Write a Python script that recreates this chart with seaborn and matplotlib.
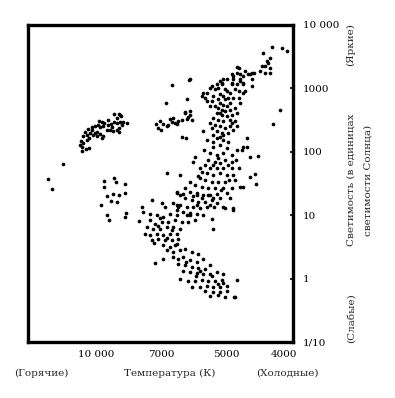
import numpy as np
import pandas as pd
import matplotlib
matplotlib.use("Agg")
import matplotlib.pyplot as plt
import matplotlib.transforms as mtransforms
import seaborn as sns

# ---------------- data (temperature K, luminosity in solar units) ----------------
giants_temp = [4270, 4130, 4060, 4400, 4300, 4350, 4330, 4420, 4370, 4300, 4450, 4370, 4300, 4550,
               4600, 4690, 4720, 4790, 4820, 4880, 4900, 5070, 5110, 5200, 4770, 4710, 4580, 4690,
               4150, 4250, 4820, 4770, 4630, 4580, 4880, 4580]
giants_lum = [4430, 4270, 3910, 3590, 3070, 2710, 2490, 2260, 2260, 2130, 1880, 1770, 1770, 1770,
              1670, 1880, 1570, 2130, 1770, 1570, 1230, 1430, 1160, 1030, 1310, 1160, 1090, 906,
              453, 275, 2210, 1670, 1670, 1730, 1390, 1390]

bright_temp = [6030, 6030, 6620, 6070, 6830, 6110, 6170, 6090, 7190, 7040, 6920, 6800, 6680, 6620,
               6510, 6420, 6290, 7100, 7010, 6740, 6570, 6450, 6130, 6030, 5970, 6180, 6270, 6160]
bright_lum = [1390, 436, 1120, 1360, 593, 669, 421, 350, 275, 303, 278, 252, 330, 292,
              285, 303, 322, 238, 218, 268, 343, 275, 330, 387, 322, 411, 171, 165]

super_temp = [9060, 8800, 8710, 8900, 9850, 9680, 9560, 9380, 9210, 9060, 8930, 8770, 8610, 8450,
              8660, 10100, 9870, 9780, 9610, 9430, 9260, 9100, 8900, 8830, 8830, 10860, 10470,
              10100, 9930, 9780, 9610, 9690, 9960, 10290, 10660, 11240, 11040, 10740, 11530,
              11740, 11450, 11860, 11570, 11160, 10740, 11650, 8770, 9360, 9160, 10440, 11010]
super_lum = [397, 397, 363, 347, 310, 296, 285, 268, 275, 292, 285, 296, 296, 285,
             265, 259, 268, 247, 259, 223, 218, 213, 218, 234, 208, 229, 218,
             198, 202, 188, 175, 165, 175, 186, 198, 208, 184, 165, 175,
             146, 137, 129, 121, 112, 115, 104, 387, 322, 245, 249, 155]

hot_temp = [16640, 15940, 14270, 9050, 9560, 8980, 8530, 9590, 9430, 9130, 8820, 8530, 9230, 8910,
            9740, 9400, 8480, 9300, 8540, 7880]
hot_lum = [36.9, 25.9, 65.2, 39.1, 34.7, 33.0, 30.7, 27.8, 20.0, 21.3, 20.8, 22.4, 16.9, 16.3,
           14.3, 10.1, 10.9, 8.42, 9.30, 8.03]

upper_temp = [4900, 4770, 4710, 5110, 5250, 5290, 4900, 4850, 4790, 4710, 4990, 4930, 5620, 5670,
              5570, 5520, 5380, 5160, 5070, 5030, 4960, 4880, 4790, 5160, 5070, 4990, 4930, 5290,
              5200, 5110, 5030, 4930, 4850, 5250, 5110, 4990, 4900, 4820, 5340, 5200, 5070, 4930,
              4850, 5290, 5160, 5030, 4930, 4820, 5380, 5250, 5110, 4960, 5340, 5160, 5620, 5520,
              5380, 5160, 5430, 5340, 5200, 5430, 5030, 4820, 4770, 4990, 5160, 4900, 5430, 5070,
              4880]
upper_lum = [1670, 1390, 1230, 1230, 1160, 964, 1160, 964, 906, 855, 906, 855, 855, 755,
             711, 629, 629, 803, 755, 669, 711, 711, 711, 593, 557, 524, 593, 524,
             494, 464, 436, 464, 494, 411, 387, 363, 387, 411, 343, 322, 303, 322,
             303, 268, 252, 238, 252, 252, 238, 210, 198, 198, 186, 171, 210, 855,
             1090, 1310, 1030, 755, 669, 524, 964, 1160, 593, 1390, 411, 285, 285, 186,
             223]

middle_temp = [5520, 5250, 5070, 5160, 5340, 4990, 4820, 4740, 4660, 5430, 5250, 5070, 4900, 5870,
               5920, 5480, 5290, 5160, 5030, 4900, 5570, 5430, 5250, 5070, 4900, 4790, 5670, 5520,
               5340, 5160, 4990, 4880, 6350, 5720, 5570, 5380, 5200, 5030, 4850, 6030, 5870, 5670,
               5480, 5290, 5070, 4900, 4770, 6180, 6030, 5820, 5620, 5430, 5250, 6350, 6450, 6180,
               5970, 5770, 5570, 5380, 5160, 6570, 6350, 6130, 5920, 5720, 5520, 6450, 6240, 6030,
               5820, 5030, 4660, 4990, 4930, 4880, 5070, 5350, 4960, 5600, 5210, 4960, 5350, 5720,
               4830, 5780, 4950, 5130, 5930, 5320, 6120, 6410]
middle_lum = [155, 165, 155, 129, 121, 115, 108, 108, 121, 95.3, 89.6, 95.3, 89.6, 84.2,
              70.2, 74.6, 70.2, 66.2, 74.6, 70.2, 62.2, 55.1, 55.1, 55.1, 55.1, 55.1, 48.7, 45.9,
              43.1, 45.9, 43.1, 43.1, 43.1, 38.2, 35.9, 33.8, 33.8, 33.8, 35.9, 33.8, 29.9, 28.1,
              26.5, 26.5, 26.5, 26.5, 28.1, 26.5, 23.4, 22.1, 20.8, 20.8, 21.3, 20.8, 22.1, 18.4,
              17.3, 16.3, 16.3, 17.3, 18.4, 15.3, 14.4, 13.5, 13.5, 12.8, 13.5, 12.0, 11.3, 11.0,
              10.6, 12.8, 165, 22.1, 18.4, 12.8, 13.5, 144, 144, 108, 80.3, 62.2, 62.2, 55.7,
              74.6, 41.6, 35.9, 24.9, 20.0, 13.4, 10.0, 13.4]

stray_temp = [4600, 4480, 4710, 4600, 4530, 4510, 4720, 4880, 5340, 4820, 4860, 7230, 6800]
stray_lum = [82.4, 86.4, 121, 40.5, 44.8, 31.0, 28.1, 12.0, 6.0, 0.95, 0.505, 1.75, 46.9]

lower_temp = [6450, 6240, 5820, 5670, 5480, 5340, 5250, 5430, 5820, 7780, 7710, 7440, 7370, 6980,
              6860, 6450, 7170, 6920, 6680, 6450, 6030, 5620, 5380, 7440, 7230, 6980, 6740, 6510,
              6290, 6080, 5870, 7570, 7300, 7040, 6800, 6570, 6350, 7640, 7440, 7170, 6920, 6680,
              6450, 7370, 7100, 6860, 6620, 6400, 6920, 6680, 6510, 6800, 6570, 6350, 6180, 5970,
              5770, 6920, 6570, 6400, 6240, 6030, 5820, 5620, 6400, 6180, 5970, 5770, 5570, 5430,
              6240, 6030, 5820, 5620, 5430, 5250, 5070, 6350, 6080, 5870, 5670, 5480, 5290, 5110,
              5970, 5720, 5520, 5340, 5160, 4990, 5570, 5340, 5160, 4990, 5430, 5200, 5030, 4850,
              7040, 6610, 6790, 7100, 6150, 5720, 5370, 5210, 5840, 5080, 6440, 7270]
lower_lum = [23.4, 21.5, 20.8, 18.4, 20.8, 18.4, 15.3, 14.4, 14.4, 13.5, 11.3, 10.6, 17.3, 15.3,
             13.5, 14.4, 10.0, 9.40, 10.6, 10.0, 10.0, 10.0, 8.87, 8.33, 7.38, 7.83, 7.83, 8.33,
             7.83, 7.83, 8.33, 6.52, 6.15, 6.15, 6.52, 6.52, 6.15, 5.12, 4.82, 5.12, 4.82, 5.12,
             5.12, 4.01, 4.27, 4.01, 4.01, 4.27, 3.34, 3.14, 3.34, 2.78, 2.61, 2.78, 2.96, 2.61,
             2.47, 2.05, 2.18, 2.05, 2.18, 1.93, 1.81, 2.05, 1.71, 1.61, 1.55, 1.48, 1.43, 1.61,
             1.34, 1.26, 1.21, 1.19, 1.19, 1.26, 1.19, 0.99, 0.93, 0.93, 0.95, 0.91, 0.93, 0.95,
             0.73, 0.75, 0.77, 0.73, 0.73, 0.77, 0.645, 0.62, 0.61, 0.645, 0.54, 0.56, 0.505, 0.505,
             8.96, 5.78, 4.31, 6.69, 1.80, 1.34, 1.08, 0.83, 1.08, 0.86, 3.46, 3.59]

x_ticks = [10000, 7000, 5000, 4000]
x_tick_labels = ["10 000", "7000", "5000", "4000"]
y_ticks = [0.1, 1, 10, 100, 1000, 10000]
y_tick_labels = ["1/10", "1", "10", "100", "1000", "10 000"]

# ---------------- build table ----------------
groups = [(giants_temp, giants_lum), (bright_temp, bright_lum), (super_temp, super_lum),
          (hot_temp, hot_lum), (upper_temp, upper_lum), (middle_temp, middle_lum),
          (stray_temp, stray_lum), (lower_temp, lower_lum)]
df = pd.concat([pd.DataFrame({"temp": t, "lum": l}) for t, l in groups], ignore_index=True)

# ---------------- style ----------------
sns.set_style("white")
plt.rcParams["font.family"] = ["DejaVu Serif"]

fig, ax = plt.subplots(figsize=(3.95, 3.98), dpi=100)
fig.subplots_adjust(left=0.0709, right=0.7418, bottom=0.1407, top=0.9372)

sns.scatterplot(data=df, x="temp", y="lum", color="black", s=7, linewidth=0,
                ax=ax, legend=False)

# temperature axis: equal spacing between the labelled temperatures
# (increasing function of temperature; axis limits are then given hot -> cool)
anchor_T = np.array([3000, 4000, 5000, 7000, 10000, 20000, 30000], dtype=float)
anchor_q = np.array([-5.289, -4.0, -3.0, -2.0, -1.0, 0.0, 0.585])
lt = np.log10(anchor_T)


def fwd(t):
    t = np.asarray(t, dtype=float)
    return np.interp(np.log10(np.clip(t, 1, None)), lt, anchor_q)


def inv(q):
    q = np.asarray(q, dtype=float)
    return 10 ** np.interp(q, anchor_q, lt)


ax.set_xscale("function", functions=(fwd, inv))
ax.set_xlim(float(inv(0.046)), float(inv(-4.03)))
ax.set_yscale("log")
ax.set_ylim(0.1, 10000)

ax.set_xticks(x_ticks)
ax.set_xticklabels(x_tick_labels)
ax.set_yticks(y_ticks)
ax.set_yticklabels(y_tick_labels)
ax.minorticks_off()
ax.yaxis.tick_right()
ax.tick_params(axis="x", direction="in", length=6, width=2.2, pad=6, labelsize=7.5, colors="black")
ax.tick_params(axis="y", direction="in", length=2, width=1.2, pad=7, labelsize=7.5, colors="black")
for lbl in ax.get_yticklabels():
    lbl.set_horizontalalignment("left")
# the rightmost temperature label sits a little inside the frame edge
last = ax.get_xticklabels()[-1]
last.set_transform(last.get_transform() +
                   mtransforms.ScaledTranslation(-7 / 100, 0, fig.dpi_scale_trans))
ax.set_xlabel("")
ax.set_ylabel("")
for sp in ax.spines.values():
    sp.set_visible(True)
    sp.set_linewidth(2.4)
    sp.set_color("black")

W, H = 395.0, 398.0
def fx(px):
    return px / W
def fy(py):
    return 1 - py / H

fs = 7.5
fig.text(fx(41), fy(373), "(Горячие)", ha="center", va="center", fontsize=fs)
fig.text(fx(170), fy(373), "Температура (К)", ha="center", va="center", fontsize=fs)
fig.text(fx(287), fy(373), "(Холодные)", ha="center", va="center", fontsize=fs)
fig.text(fx(351), fy(45), "(Яркие)", ha="center", va="center", fontsize=fs, rotation=90)
fig.text(fx(351), fy(180), "Светимость (в единицах", ha="center", va="center", fontsize=fs, rotation=90)
fig.text(fx(368), fy(180), "светимости Солнца)", ha="center", va="center", fontsize=fs, rotation=90)
fig.text(fx(351), fy(318), "(Слабые)", ha="center", va="center", fontsize=fs, rotation=90)

fig.savefig("out.png", dpi=100, facecolor="white")
